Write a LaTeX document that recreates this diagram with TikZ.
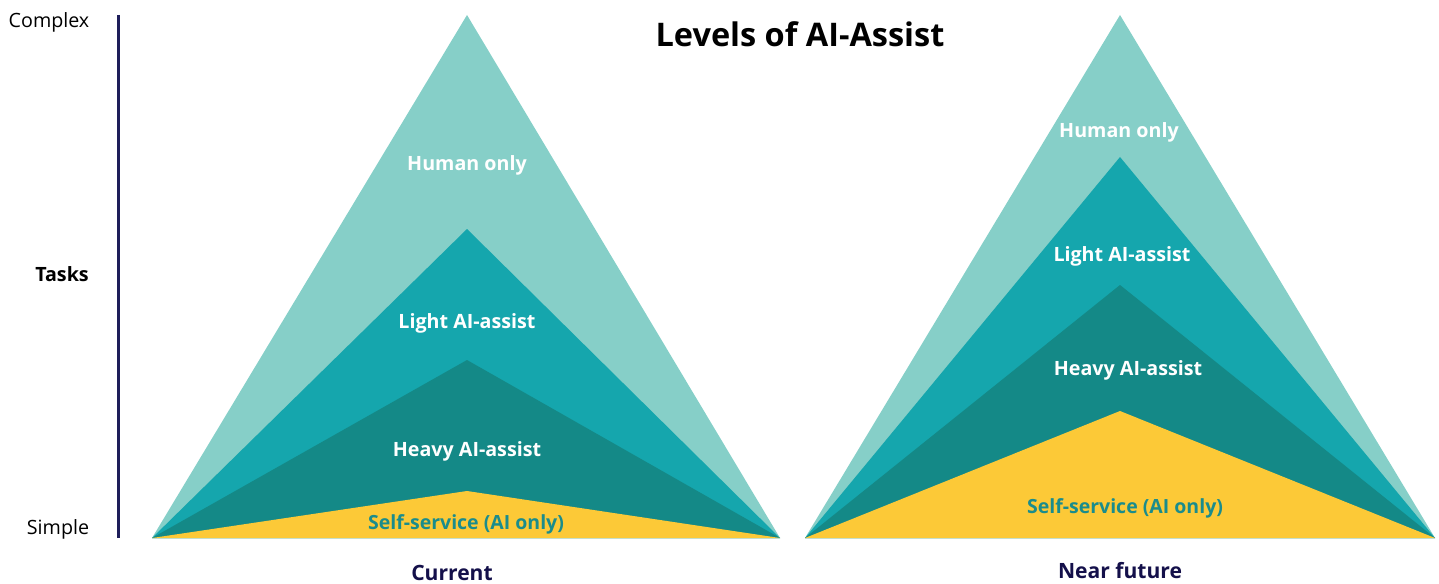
\documentclass[tikz,border=0pt]{standalone}
\usepackage{fontspec}
\setmainfont{Open Sans}
\usepackage{tikz}

\definecolor{humanteal}{HTML}{86CFC8}
\definecolor{lightteal}{HTML}{15A6AD}
\definecolor{heavyteal}{HTML}{148987}
\definecolor{selfyellow}{HTML}{FCC937}
\definecolor{selftext}{HTML}{1A8C8C}
\definecolor{axisnavy}{HTML}{1E1E5A}
\definecolor{capnavy}{HTML}{14104A}

\tikzset{
	layer/.style={white, font=\bfseries\fontsize{11.2}{13}\selectfont},
	selflabel/.style={selftext, font=\bfseries\fontsize{11.1}{13}\selectfont},
	caption/.style={capnavy, font=\bfseries\fontsize{12}{14}\selectfont},
	axislabel/.style={black, font=\fontsize{11.2}{13}\selectfont}
}

\begin{document}
\begin{tikzpicture}[x=0.02cm, y=-0.02cm]
		%%%%% START %%%%%
		\useasboundingbox (0, 0) rectangle (1439, 584);
		
		\node[font=\bfseries\fontsize{18.5}{22}\selectfont] (title) at (800, 34) {Levels of AI-Assist};
		
		% task axis
		\draw[line width=0.6mm, color=axisnavy] (118, 15) -- (118, 538);
		\node[axislabel] (complex) at (49, 22) {Complex};
		\node[axislabel, font=\bfseries\fontsize{11.2}{13}\selectfont] (tasks) at (62, 274) {Tasks};
		\node[axislabel] (simple) at (58, 529) {Simple};
		
		% current
		\fill[humanteal] (152, 538) -- (467, 15) -- (780, 538) -- cycle;
		\fill[lightteal] (152, 538) -- (467, 229) -- (780, 538) -- cycle;
		\fill[heavyteal] (152, 538) -- (467, 360) -- (780, 538) -- cycle;
		\fill[selfyellow] (152, 538) -- (467, 491) -- (780, 538) -- cycle;
		
		\node[layer] (curhuman) at (467, 165) {Human only};
		\node[layer] (curlight) at (467, 323) {Light AI-assist};
		\node[layer] (curheavy) at (467, 451) {Heavy AI-assist};
		\node[selflabel] (curself) at (466, 524) {Self-service (AI only)};
		\node[caption, inner sep=1pt] (current) at (452, 573) {Current};
		
		% near future
		\fill[humanteal] (805, 538) -- (1120, 15) -- (1435, 538) -- cycle;
		\fill[lightteal] (805, 538) -- (1120, 157) -- (1435, 538) -- cycle;
		\fill[heavyteal] (805, 538) -- (1120, 285) -- (1435, 538) -- cycle;
		\fill[selfyellow] (805, 538) -- (1120, 411) -- (1435, 538) -- cycle;
		
		\node[layer] (nexthuman) at (1119, 132) {Human only};
		\node[layer] (nextlight) at (1122, 256) {Light AI-assist};
		\node[layer] (nextheavy) at (1128, 370) {Heavy AI-assist};
		\node[selflabel] (nextself) at (1125, 508) {Self-service (AI only)};
		\node[caption, inner sep=1pt] (nearfuture) at (1120, 571) {Near future};
		
		%%%%% END %%%%%
	\end{tikzpicture}
\end{document}
